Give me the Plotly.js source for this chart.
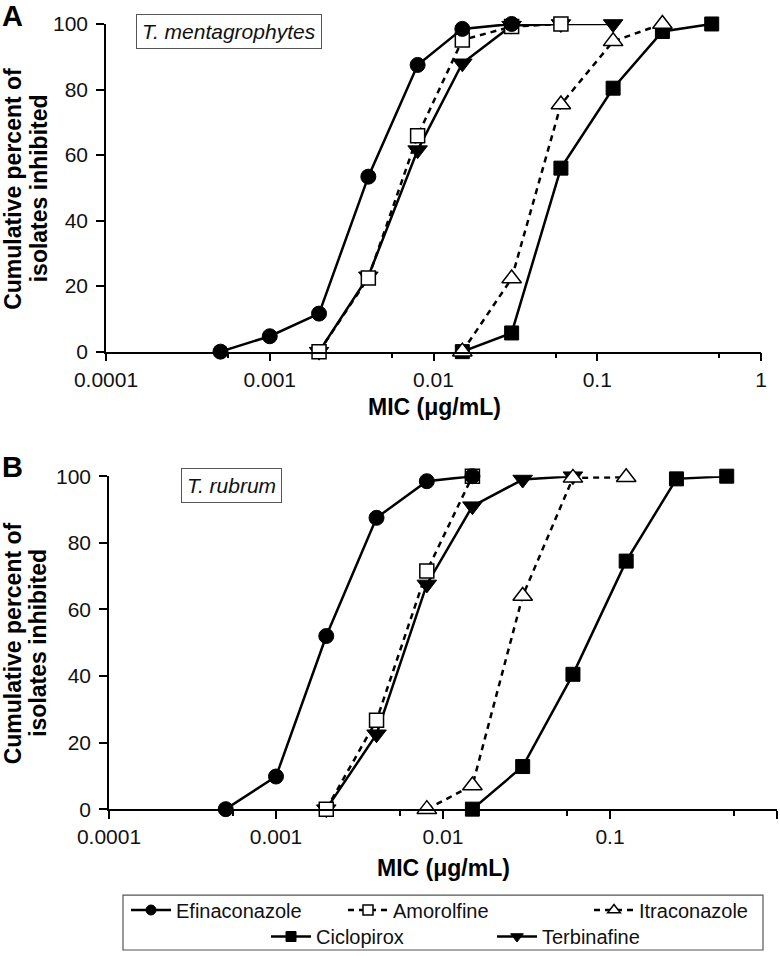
<!DOCTYPE html>
<html>
<head>
<meta charset="utf-8">
<script src="https://cdn.plot.ly/plotly-3.0.1.min.js"></script>
<style>html,body{margin:0;padding:0;background:#fff;}#chart{width:780px;height:956px;}</style>
</head>
<body>
<div id="chart"></div>
<script>
// ---------- data ----------
const seriesNames = ["Efinaconazole", "Amorolfine", "Itraconazole", "Ciclopirox", "Terbinafine"];
const xTickVals = [0.0001, 0.001, 0.01, 0.1, 1];
const xTickText = ["0.0001", "0.001", "0.01", "0.1", "1"];
const xMinorVals = [0.000556, 0.00556, 0.0556, 0.556];
const yTickVals = [0, 20, 40, 60, 80, 100];
const panelTitles = ["T. mentagrophytes", "T. rubrum"];

// Panel A: T. mentagrophytes
const A_efi_x = [0.0005, 0.001, 0.002, 0.004, 0.008, 0.015, 0.03];
const A_efi_y = [0, 4.7, 11.6, 53.4, 87.5, 98.5, 100];
const A_amo_x = [0.002, 0.004, 0.008, 0.015, 0.03, 0.06];
const A_amo_y = [0, 22.5, 65.9, 95.1, 99.2, 100];
const A_itr_x = [0.015, 0.03, 0.06, 0.125, 0.25];
const A_itr_y = [0, 22.3, 75.4, 94.7, 100];
const A_cic_x = [0.015, 0.03, 0.06, 0.125, 0.25, 0.5];
const A_cic_y = [0, 5.7, 56, 80.4, 97.7, 100];
const A_ter_x = [0.002, 0.004, 0.008, 0.015, 0.03, 0.06, 0.125];
const A_ter_y = [0, 23, 61.5, 88, 99.5, 100, 100];

// Panel B: T. rubrum
const B_efi_x = [0.0005, 0.001, 0.002, 0.004, 0.008, 0.015];
const B_efi_y = [0, 9.8, 52, 87.5, 98.5, 100];
const B_amo_x = [0.002, 0.004, 0.008, 0.015];
const B_amo_y = [0, 26.7, 71.5, 100];
const B_itr_x = [0.008, 0.015, 0.03, 0.06, 0.125];
const B_itr_y = [0, 7.1, 64, 99.5, 99.7];
const B_cic_x = [0.015, 0.03, 0.06, 0.125, 0.25, 0.5];
const B_cic_y = [0, 12.8, 40.5, 74.5, 99.2, 100];
const B_ter_x = [0.002, 0.004, 0.008, 0.015, 0.03, 0.06];
const B_ter_y = [0, 22.5, 67.5, 91, 99, 100];

// ---------- layout helpers ----------
const W = 780, H = 956;
const px = v => v / W;
const py = v => 1 - v / H;
const FONT = 'Arial, "Liberation Sans", sans-serif';

const styles = {
  Efinaconazole: {line: {color: '#000', width: 2.5}, marker: {symbol: 'circle', size: 15, color: '#000', line: {color: '#000', width: 1}}},
  Amorolfine:    {line: {color: '#000', width: 2.5, dash: '6px,5px'}, marker: {symbol: 'square', size: 14, color: '#fff', line: {color: '#000', width: 1.5}}},
  Itraconazole:  {line: {color: '#000', width: 2.5, dash: '6px,5px'}, marker: {symbol: 'triangle-up', size: 17, color: '#fff', line: {color: '#000', width: 1.5}}},
  Ciclopirox:    {line: {color: '#000', width: 2.5}, marker: {symbol: 'square', size: 14, color: '#000', line: {color: '#000', width: 1}}},
  Terbinafine:   {line: {color: '#000', width: 2.5}, marker: {symbol: 'triangle-down', size: 17, color: '#000', line: {color: '#000', width: 1}}}
};

function tr(name, x, y, xa, ya) {
  const s = styles[name];
  return {type: 'scatter', mode: 'lines+markers', name: name, x: x, y: y, xaxis: xa, yaxis: ya,
    line: s.line, marker: s.marker, cliponaxis: false, showlegend: false, hoverinfo: 'x+y+name'};
}

// draw order: Ciclopirox, Terbinafine, Itraconazole, Amorolfine, Efinaconazole (top)
const traces = [
  tr('Ciclopirox', A_cic_x, A_cic_y, 'x', 'y'),
  tr('Terbinafine', A_ter_x, A_ter_y, 'x', 'y'),
  tr('Itraconazole', A_itr_x, A_itr_y, 'x', 'y'),
  tr('Amorolfine', A_amo_x, A_amo_y, 'x', 'y'),
  tr('Efinaconazole', A_efi_x, A_efi_y, 'x', 'y'),
  tr('Ciclopirox', B_cic_x, B_cic_y, 'x2', 'y2'),
  tr('Terbinafine', B_ter_x, B_ter_y, 'x2', 'y2'),
  tr('Itraconazole', B_itr_x, B_itr_y, 'x2', 'y2'),
  tr('Amorolfine', B_amo_x, B_amo_y, 'x2', 'y2'),
  tr('Efinaconazole', B_efi_x, B_efi_y, 'x2', 'y2')
];

// legend entries (legend-only traces with small markers)
const legendRow = {Efinaconazole: 'legend', Amorolfine: 'legend', Itraconazole: 'legend', Ciclopirox: 'legend2', Terbinafine: 'legend2'};
const legendWidths = {Efinaconazole: 162, Amorolfine: 191, Itraconazole: 130, Ciclopirox: 171, Terbinafine: 130};
seriesNames.forEach(n => {
  const s = styles[n];
  traces.push({type: 'scatter', mode: 'lines+markers', name: n, x: [null], y: [null], xaxis: 'x2', yaxis: 'y2',
    line: Object.assign({}, s.line, {width: 2.5}),
    marker: Object.assign({}, s.marker, {size: n === 'Itraconazole' || n === 'Terbinafine' ? 11 : 10}),
    showlegend: true, legend: legendRow[n], legendwidth: legendWidths[n], hoverinfo: 'skip'});
});

function xaxisDef(d0, d1, anchor) {
  return {type: 'log', range: [-4, 0], domain: [d0, d1], anchor: anchor,
    tickmode: 'array', tickvals: xTickVals, ticktext: xTickText,
    ticks: 'outside', ticklen: 8, tickwidth: 1.5, tickcolor: '#000',
    minor: {tickmode: 'array', tickvals: xMinorVals, ticks: 'outside', ticklen: 5, tickwidth: 1.5, tickcolor: '#000', showgrid: false},
    showline: true, linecolor: '#000', linewidth: 1.5, showgrid: false, zeroline: false,
    tickfont: {family: FONT, size: 21, color: '#111'}, fixedrange: true};
}
function yaxisDef(d0, d1, anchor) {
  return {range: [0, 100], domain: [d0, d1], anchor: anchor,
    tickmode: 'array', tickvals: yTickVals,
    ticks: 'outside', ticklen: 8, tickwidth: 1.5, tickcolor: '#000', ticklabelstandoff: 4,
    showline: true, linecolor: '#000', linewidth: 1.5, showgrid: false, zeroline: false,
    tickfont: {family: FONT, size: 21, color: '#111'}, fixedrange: true};
}

function ann(text, x, y, opts) {
  return Object.assign({text: text, xref: 'paper', yref: 'paper', x: px(x), y: py(y),
    xanchor: 'center', yanchor: 'middle', showarrow: false,
    font: {family: FONT, size: 20, color: '#000'}}, opts || {});
}

const annotations = [
  ann('<b>A</b>', 0, 16.5, {xanchor: 'left', font: {family: FONT, size: 29, color: '#000'}}),
  ann('<b>B</b>', 0, 467.5, {xanchor: 'left', font: {family: FONT, size: 29, color: '#000'}}),
  ann('<i>' + panelTitles[0] + '</i>', 228.5, 31.5, {font: {family: FONT, size: 21, color: '#111'},
    bordercolor: '#555', borderwidth: 1, borderpad: 5, bgcolor: '#fff'}),
  ann('<i>' + panelTitles[1] + '</i>', 231.5, 486, {font: {family: FONT, size: 21, color: '#111'},
    bordercolor: '#555', borderwidth: 1, borderpad: 5, bgcolor: '#fff'}),
  ann('<b>MIC (μg/mL)</b>', 434, 407, {font: {family: FONT, size: 23, color: '#000'}}),
  ann('<b>MIC (μg/mL)</b>', 443.5, 869, {font: {family: FONT, size: 23, color: '#000'}}),
  ann('<b>Cumulative percent of</b>', 13, 189, {textangle: -90, font: {family: FONT, size: 23, color: '#000'}}),
  ann('<b>isolates inhibited</b>', 38.5, 189, {textangle: -90, font: {family: FONT, size: 23, color: '#000'}}),
  ann('<b>Cumulative percent of</b>', 13, 644, {textangle: -90, font: {family: FONT, size: 23, color: '#000'}}),
  ann('<b>isolates inhibited</b>', 38.5, 644, {textangle: -90, font: {family: FONT, size: 23, color: '#000'}})
];

const legendCommon = {orientation: 'h', xanchor: 'left', yanchor: 'middle', bgcolor: 'rgba(0,0,0,0)',
  borderwidth: 0, font: {family: FONT, size: 20, color: '#111'}, itemwidth: 40, traceorder: 'normal',
  itemclick: false, itemdoubleclick: false};

const layout = {
  width: W, height: H,
  margin: {l: 0, r: 0, t: 0, b: 0, pad: 0},
  paper_bgcolor: '#fff', plot_bgcolor: '#fff',
  showlegend: true,
  xaxis: xaxisDef(px(106), px(761), 'y'),
  yaxis: yaxisDef(py(352), py(24), 'x'),
  xaxis2: xaxisDef(px(109), px(777), 'y2'),
  yaxis2: yaxisDef(py(810), py(476.7), 'x2'),
  legend: Object.assign({}, legendCommon, {x: px(126), y: py(910)}),
  legend2: Object.assign({}, legendCommon, {x: px(266), y: py(937)}),
  annotations: annotations,
  shapes: [{type: 'rect', xref: 'paper', yref: 'paper', x0: px(123), x1: px(763), y0: py(951), y1: py(896),
    line: {color: '#555', width: 1.2}, fillcolor: 'rgba(0,0,0,0)'}]
};

Plotly.newPlot('chart', traces, layout, {displayModeBar: false, staticPlot: false, responsive: false});
</script>
</body>
</html>
